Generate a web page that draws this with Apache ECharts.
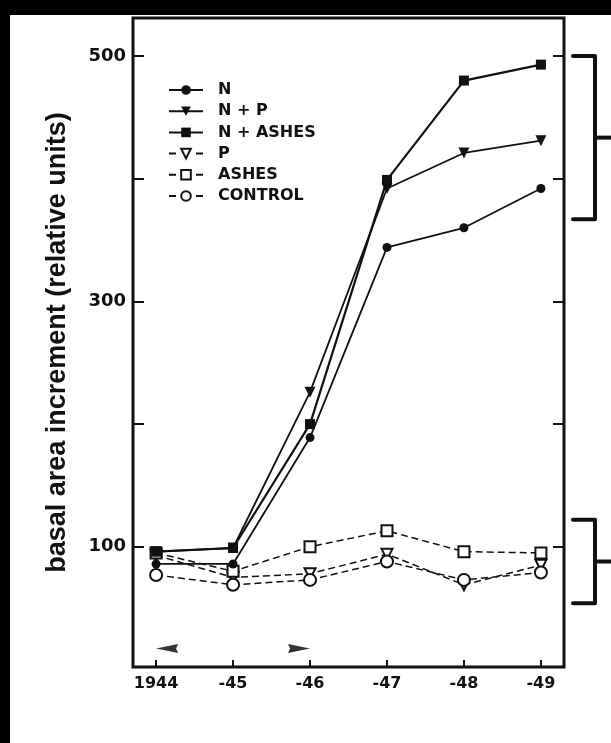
<!DOCTYPE html>
<html><head><meta charset="utf-8">
<script src="https://cdn.jsdelivr.net/npm/echarts@6/dist/echarts.min.js"></script>
<style>
html,body{margin:0;padding:0;background:#000;width:611px;height:743px;overflow:hidden}
#c{position:absolute;left:10px;top:15px;width:601px;height:728px;background:#fff}
</style></head><body><div id="c"></div>
<script>
const years = [1944, 1945, 1946, 1947, 1948, 1949];
const yearLabels = ['1944', '-45', '-46', '-47', '-48', '-49'];
const yTicks = [100, 200, 300, 400, 500];
const yTickLabels = [100, 300, 500];
const seriesNames = ['N', 'N + P', 'N + ASHES', 'P', 'ASHES', 'CONTROL'];
const valN = [86, 86, 189, 344, 360, 392];
const valNP = [96, 99, 226, 392, 421, 431];
const valNAshes = [96, 99, 200, 399, 480, 493];
const valP = [93, 75, 78, 94, 69, 85];
const valAshes = [95, 80, 100, 113, 96, 95];
const valControl = [77, 69, 73, 88, 73, 79];
// treatment-period arrows: [year, level, direction]
const arrowMarks = [[1944, 17, 'left'], [1946, 17, 'right']];
// brackets grouping the series: [low, high]
const brackets = [[367, 500], [54, 122]];
const yMin = 2, yMax = 531, xMin = 1943.7, xMax = 1949.3;

const INK = '#111';
const chart = echarts.init(document.getElementById('c'), null, {renderer: 'canvas'});

function pairs(vals) { return years.map((y, i) => [y, vals[i]]); }
function solid(name, vals, symbol, size, rot, lw) {
  return {
    name, type: 'line', data: pairs(vals), z: 5,
    symbol, symbolSize: size, symbolRotate: rot || 0,
    lineStyle: {color: INK, width: lw || 1.8},
    itemStyle: {color: INK, borderColor: INK, borderWidth: 0},
    emphasis: {disabled: true}
  };
}
function dashed(name, vals, symbol, size, rot) {
  return {
    name, type: 'line', data: pairs(vals), z: 3,
    symbol, symbolSize: size, symbolRotate: rot || 0,
    lineStyle: {color: INK, width: 1.5, type: [7, 4]},
    itemStyle: {color: INK, borderColor: INK, borderWidth: 1.4},
    emphasis: {disabled: true}
  };
}

const ARROW_LEFT = 'path://M0,5 L22,0 L20,5 L22,10 Z';
const ARROW_RIGHT = 'path://M22,5 L0,0 L2,5 L0,10 Z';

const series = [
  solid(seriesNames[0], valN, 'circle', 9),
  solid(seriesNames[1], valNP, 'triangle', 11, 180),
  solid(seriesNames[2], valNAshes, 'rect', 10, 0, 2.2),
  dashed(seriesNames[3], valP, 'emptyTriangle', 11, 180),
  dashed(seriesNames[4], valAshes, 'emptyRect', 11),
  dashed(seriesNames[5], valControl, 'emptyCircle', 12),
  {
    name: 'arrows', type: 'scatter', z: 4, silent: true,
    data: arrowMarks.map(a => ({
      value: [a[0], a[1]],
      symbol: a[2] === 'left' ? ARROW_LEFT : ARROW_RIGHT,
      symbolOffset: a[2] === 'left' ? [11, 0] : [-11, 0]
    })),
    symbolSize: [22, 9],
    itemStyle: {color: '#000'}
  }
];

const labelFont = {fontFamily: 'DejaVu Sans', fontWeight: 'bold', fontSize: 16, color: INK};

chart.setOption({
  animation: false,
  backgroundColor: '#fff',
  grid: {left: 123, top: 3, right: 47, bottom: 76, show: true, borderColor: INK, borderWidth: 3, backgroundColor: 'transparent'},
  legend: {
    orient: 'vertical', left: 153, top: 62,
    itemWidth: 34, itemHeight: 12, itemGap: 5.2,
    selectedMode: false,
    textStyle: {fontFamily: 'DejaVu Sans', fontWeight: 'bold', fontSize: 16, color: INK, padding: [0, 0, 0, 10]},
    data: seriesNames.map((n, i) => i < 3 ? {name: n} : {name: n, lineStyle: {type: [7, 20]}})
  },
  xAxis: {
    type: 'value', min: xMin, max: xMax,
    axisLine: {show: false},
    splitLine: {show: false},
    axisTick: {show: true, inside: true, length: 7, lineStyle: {color: INK, width: 2}, customValues: years},
    axisLabel: Object.assign({margin: 9, customValues: years, formatter: v => yearLabels[years.indexOf(Math.round(v))]}, labelFont)
  },
  yAxis: [{
    type: 'value', min: yMin, max: yMax, position: 'left',
    name: 'basal area increment (relative units)',
    nameLocation: 'middle', nameRotate: 90, nameGap: 62,
    nameTextStyle: {fontFamily: 'Liberation Sans', fontWeight: 'bold', fontSize: 27, color: INK},
    axisLine: {show: false},
    splitLine: {show: false},
    axisTick: {show: true, inside: true, length: 11, lineStyle: {color: INK, width: 2}, customValues: yTicks},
    axisLabel: Object.assign({}, labelFont, {margin: 7, fontSize: 18, customValues: yTickLabels})
  }, {
    type: 'value', min: yMin, max: yMax, position: 'right',
    axisLine: {show: false},
    splitLine: {show: false},
    axisTick: {show: true, inside: true, length: 11, lineStyle: {color: INK, width: 2}, customValues: yTicks},
    axisLabel: {show: false}
  }],
  series
});

function bracketGraphics() {
  const out = [];
  const gridRight = chart.convertToPixel({xAxisIndex: 0}, xMax);
  const x0 = gridRight + 9, x1 = gridRight + 31, x2 = gridRight + 50;
  brackets.forEach(b => {
    const yTop = chart.convertToPixel({yAxisIndex: 0}, b[1]);
    const yBot = chart.convertToPixel({yAxisIndex: 0}, b[0]);
    const yMid = (yTop + yBot) / 2;
    out.push({type: 'polyline', silent: true, shape: {points: [[x0, yTop], [x1, yTop], [x1, yBot], [x0, yBot]]},
      style: {stroke: INK, lineWidth: 4, fill: null, lineJoin: 'round', lineCap: 'round'}});
    out.push({type: 'line', silent: true, shape: {x1: x1, y1: yMid, x2: x2, y2: yMid},
      style: {stroke: INK, lineWidth: 4}});
  });
  return out;
}
chart.setOption({graphic: bracketGraphics()});
</script></body></html>
